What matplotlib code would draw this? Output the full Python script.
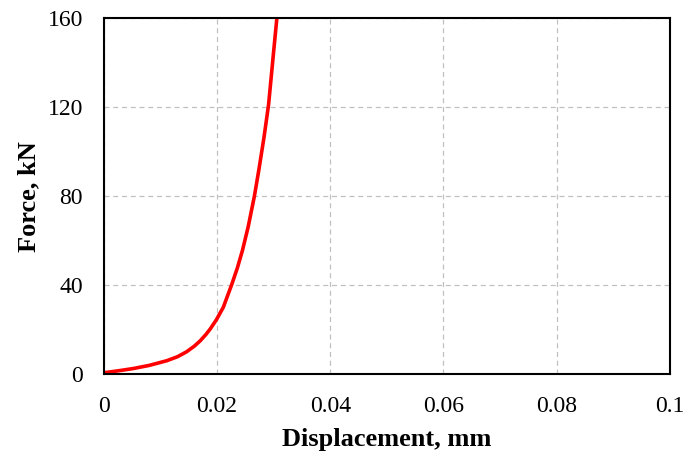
import matplotlib
matplotlib.use("Agg")
import matplotlib.pyplot as plt

# valores
desloc = [0.0, 0.0026, 0.0052, 0.0080, 0.0111, 0.0130, 0.0146, 0.0160, 0.0170,
          0.0180, 0.0188, 0.0199, 0.0211, 0.0226, 0.0236, 0.0245, 0.0255,
          0.0266, 0.0274, 0.0283, 0.0291, 0.0300, 0.03057]
forca = [0.6, 1.5, 2.5, 3.9, 6.0, 7.8, 10.0, 12.6, 14.9,
         17.7, 20.3, 24.5, 30.0, 40.3, 47.8, 55.7, 66.2,
         80.0, 92.0, 106.5, 121.0, 145.0, 160.0]

xticks = [0, 0.02, 0.04, 0.06, 0.08, 0.1]
xlabels = ["0", "0.02", "0.04", "0.06", "0.08", "0.1"]
yticks = [0, 40, 80, 120, 160]

plt.rcParams['font.family'] = ['Liberation Serif', 'DejaVu Serif']

fig = plt.figure(figsize=(6.97, 4.54), dpi=100)
ax = fig.add_axes([0.149, 0.176, 0.812, 0.784])

ax.plot(desloc, forca, color="#ff0000", linewidth=2.6, solid_capstyle="butt",
        solid_joinstyle="round", clip_on=False)

ax.set_xlim(0, 0.1)
ax.set_ylim(0, 160)
ax.set_xticks(xticks)
ax.set_xticklabels(xlabels)
ax.set_yticks(yticks)
ax.tick_params(axis="both", length=0, labelsize=17)
ax.tick_params(axis="x", pad=16)
ax.tick_params(axis="y", pad=15)

ax.grid(True, color="#c0c0c0", linestyle=(0, (4, 3)), linewidth=0.9)
ax.set_axisbelow(True)
for s in ax.spines.values():
    s.set_linewidth(1.5)
    s.set_color("black")

ax.set_xlabel("Displacement, mm", fontsize=19, fontweight="bold", labelpad=8)
ax.set_ylabel("Force, kN", fontsize=19, fontweight="bold", labelpad=5)

fig.savefig("out.png", dpi=100)
